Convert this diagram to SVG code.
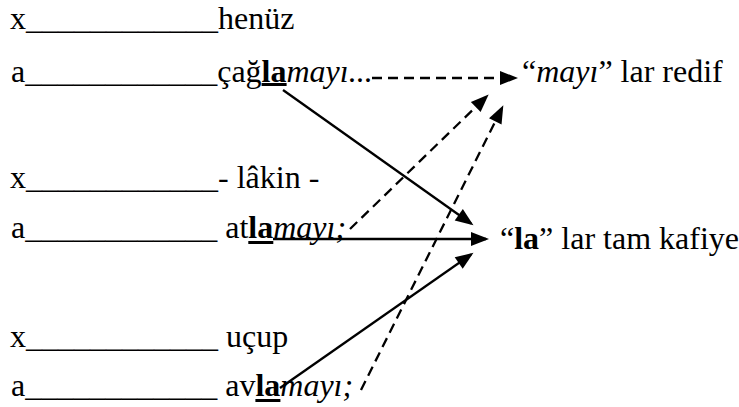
<svg xmlns="http://www.w3.org/2000/svg" width="739" height="407" viewBox="0 0 739 407">
<style>
text{font-family:"Liberation Serif","Times New Roman",serif;font-size:32px;fill:#000}
.b{font-weight:bold}
.i{font-style:italic}
.ul{fill:#000}
.con{fill:none;stroke:#000;stroke-width:2.3}
.d{stroke-dasharray:10 6}
</style>
<defs>
<marker id="ah" markerUnits="userSpaceOnUse" markerWidth="19" markerHeight="15" refX="15" refY="7" orient="auto" overflow="visible">
<path d="M0,0 L18,7 L0,14 z" fill="#000"/>
</marker>
</defs>
<rect width="739" height="407" fill="#fff"/>
<g id="line1"><text x="10" y="29">x____________henüz</text></g>
<g id="line2"><text x="11" y="82">a____________çağ<tspan class="b">la</tspan><tspan class="i">mayı...</tspan></text><rect class="ul" x="261.6" y="83" width="25" height="3"/></g>
<g id="line3"><text x="10" y="188">x____________- lâkin -</text></g>
<g id="line4"><text x="11" y="238">a____________ at<tspan class="b">la</tspan><tspan class="i">mayı;</tspan></text><rect class="ul" x="248.3" y="241" width="25" height="3"/></g>
<g id="line5"><text x="10" y="347">x____________ uçup</text></g>
<g id="line6"><text x="11" y="396">a____________ av<tspan class="b">la</tspan><tspan class="i">mayı;</tspan></text><rect class="ul" x="255.4" y="399" width="25" height="3"/></g>
<g id="redif"><text x="522" y="82">“<tspan class="i">mayı</tspan>” lar redif</text></g>
<g id="kafiye"><text x="500" y="249">“<tspan class="b">la</tspan>” lar tam kafiye</text></g>
<g id="connectors">
<line class="con d" x1="372" y1="78" x2="515" y2="78" marker-end="url(#ah)"/>
<line class="con" x1="283" y1="90" x2="471" y2="223.5" marker-end="url(#ah)"/>
<line class="con" x1="273" y1="239" x2="486" y2="239" marker-end="url(#ah)"/>
<line class="con" x1="280" y1="388" x2="471" y2="254.5" marker-end="url(#ah)"/>
<line class="con d" x1="350" y1="229" x2="486.5" y2="96.5" marker-end="url(#ah)"/>
<line class="con d" x1="361" y1="390" x2="502" y2="108" marker-end="url(#ah)"/>
</g>
</svg>
